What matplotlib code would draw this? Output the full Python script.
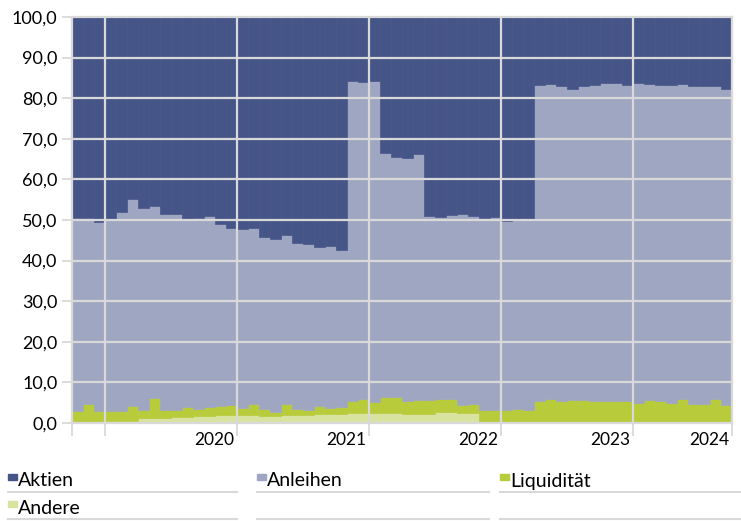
import matplotlib
matplotlib.use("Agg")
import matplotlib.pyplot as plt
import matplotlib.transforms as mtransforms
import numpy as np
from matplotlib.lines import Line2D
from matplotlib.patches import Rectangle

plt.rcParams["font.family"] = ["Lato", "DejaVu Sans"]

# monthly portfolio shares in percent, 60 months, bottom to top of the stack
andere = [
    0.3, 0.3, 0.3, 0.4, 0.4, 0.4, 1.2, 1.2, 1.3, 1.5,
    1.6, 1.7, 1.8, 1.9, 1.9, 1.9, 1.9, 1.8, 1.8, 1.9,
    2.0, 2.0, 2.1, 2.2, 2.3, 2.5, 2.5, 2.5, 2.4, 2.4,
    2.2, 2.2, 2.2, 2.7, 2.7, 2.5, 2.4, 0.0, 0.0, 0.0,
    0.0, 0.0, 0.0, 0.0, 0.0, 0.0, 0.0, 0.0, 0.0, 0.0,
    0.0, 0.0, 0.0, 0.0, 0.0, 0.0, 0.0, 0.0, 0.0, 0.0,
]
liquiditaet = [
    2.7, 4.3, 2.7, 2.5, 2.6, 3.7, 2.0, 4.9, 1.9, 1.8,
    2.4, 1.8, 2.1, 2.4, 2.5, 1.9, 2.9, 1.7, 1.0, 2.8,
    1.4, 1.2, 2.1, 1.4, 1.6, 2.8, 3.4, 2.6, 3.9, 4.0,
    3.3, 3.4, 3.5, 3.3, 3.1, 1.9, 2.3, 3.1, 3.3, 3.3,
    3.4, 3.2, 5.3, 5.8, 5.4, 5.6, 5.7, 5.3, 5.4, 5.4,
    5.3, 4.9, 5.6, 5.3, 5.0, 5.8, 4.8, 4.7, 6.0, 4.4,
]
anleihen = [
    47.6, 45.8, 46.4, 47.4, 48.9, 51.1, 49.7, 47.3, 48.2, 48.3,
    46.2, 47.0, 47.0, 44.6, 43.6, 43.9, 43.3, 42.4, 42.5, 41.6,
    40.9, 40.9, 39.2, 40.0, 38.6, 78.9, 78.2, 79.1, 60.1, 59.2,
    59.7, 60.6, 45.3, 44.7, 45.4, 47.1, 46.3, 47.3, 47.5, 46.4,
    46.7, 46.9, 77.9, 77.8, 77.5, 76.7, 77.4, 78.0, 78.4, 78.3,
    78.0, 78.8, 77.9, 78.0, 78.3, 77.8, 78.2, 78.2, 77.0, 77.8,
]
aktien = [
    49.4, 49.6, 50.6, 49.7, 48.1, 44.8, 47.1, 46.6, 48.6, 48.4,
    49.8, 49.5, 49.1, 51.1, 52.0, 52.3, 51.9, 54.1, 54.7, 53.7,
    55.7, 55.9, 56.6, 56.4, 57.5, 15.8, 15.9, 15.8, 33.6, 34.4,
    34.8, 33.8, 49.0, 49.3, 48.8, 48.5, 49.0, 49.6, 49.2, 50.3,
    49.9, 49.9, 16.8, 16.4, 17.1, 17.7, 16.9, 16.7, 16.2, 16.3,
    16.7, 16.3, 16.5, 16.7, 16.7, 16.4, 17.0, 17.1, 17.0, 17.8,
]

year_labels = ["2020", "2021", "2022", "2023", "2024"]
year_starts = [3, 15, 27, 39, 51]      # month index where each year begins
label_ends = [15, 27, 39, 51, 60]      # labels sit at the right end of each year

series = [
    ("Andere", andere, "#D9E3A0"),
    ("Liquidität", liquiditaet, "#B8CB3B"),
    ("Anleihen", anleihen, "#9EA6C1"),
    ("Aktien", aktien, "#465587"),
]

GRID = "#D9D9D9"
W, H = 741, 521

fig = plt.figure(figsize=(W / 100, H / 100), dpi=100)
ax = fig.add_axes([72 / W, 1 - 423 / H, 660 / W, 406 / H])

months = np.arange(len(aktien))
bottom = np.zeros(len(months))
for name, values, color in series:
    values = np.asarray(values)
    ax.bar(months, values, width=1.0, align="edge", bottom=bottom,
           color=color, edgecolor=color, linewidth=0.5, zorder=1)
    bottom += values

ax.set_xlim(0, len(months))
ax.set_ylim(0, 100)

yticks = np.arange(0, 101, 10)
ax.set_yticks(yticks)
ax.set_yticklabels([f"{v:.1f}".replace(".", ",") for v in yticks], fontsize=13)
ax.set_xticks([0] + year_starts + [len(months)])
ax.set_xticklabels([])

ax.set_axisbelow(False)
ax.grid(True, color=GRID, linewidth=1.6, zorder=3)
for line in ax.get_xgridlines() + ax.get_ygridlines():
    line.set_clip_on(False)
ax.tick_params(axis="y", length=7.5, width=1.3, color=GRID, pad=3)
ax.tick_params(axis="x", length=9, width=1.3, color=GRID)
for spine in ax.spines.values():
    spine.set_visible(False)

label_tf = mtransforms.offset_copy(
    mtransforms.blended_transform_factory(ax.transData, ax.transAxes),
    fig=fig, x=-3, y=-9, units="dots")
for label, pos in zip(year_labels, label_ends):
    ax.text(pos, 0, label, transform=label_tf, ha="right", va="top", fontsize=12.5)

# legend laid out as in the original: three columns, underlined rows
legend_cols = [(8, 237), (257, 489), (500, 740)]
legend_rows = [481, 508]
legend_order = ["Aktien", "Anleihen", "Liquidität", "Andere"]
colors = {name: color for name, _, color in series}
for i, name in enumerate(legend_order):
    row, col = divmod(i, 3)
    x0 = legend_cols[col][0]
    yc = legend_rows[row]
    fig.add_artist(Rectangle((x0 / W, 1 - (yc - 1) / H), 9 / W, 6 / H,
                             transform=fig.transFigure, color=colors[name]))
    fig.text((x0 + 10) / W, 1 - yc / H, name, fontsize=14, va="center", ha="left")
for yc in legend_rows:
    for x0, x1 in legend_cols:
        fig.add_artist(Line2D([x0 / W, x1 / W], [1 - (yc + 11) / H] * 2,
                              transform=fig.transFigure, color=GRID, linewidth=1.5))

fig.savefig("out.png", dpi=100)
